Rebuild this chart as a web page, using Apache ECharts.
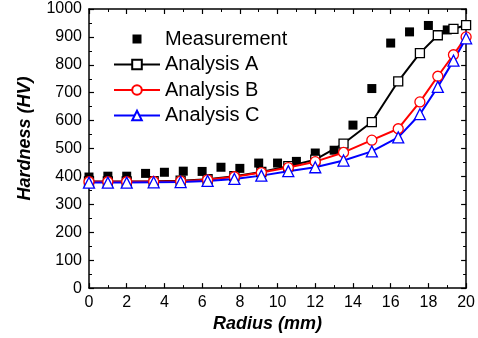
<!DOCTYPE html>
<html>
<head>
<meta charset="utf-8">
<script src="https://cdn.jsdelivr.net/npm/echarts@6/dist/echarts.min.js"></script>
<style>
  html, body { margin: 0; padding: 0; background: #fff; }
  #chart { width: 478px; height: 338px; }
</style>
</head>
<body>
<div id="chart"></div>
<script>
// measured hardness, one point per mm
const measRadius = [0, 1, 2, 3, 4, 5, 6, 7, 8, 9, 10, 11, 12, 13, 14, 15, 16, 17, 18, 19];
const measHardness = [398, 401, 401, 411, 415, 419, 418, 433, 429, 448, 448, 454, 484, 494, 584, 715, 878, 918, 941, 925];

// analysis node positions (same for the three analyses)
const nodeRadius = [0, 1, 2, 3.43, 4.86, 6.29, 7.71, 9.14, 10.57, 12, 13.5, 15, 16.4, 17.55, 18.5, 19.33, 20];
const analysisA = [382, 382, 382, 383, 385, 390, 401, 416, 437, 460, 518, 595, 741, 842, 906, 929, 942];
const analysisB = [381, 381, 381, 382, 383, 388, 399, 414, 432, 453, 486, 530, 571, 667, 759, 836, 900];
const analysisC = [378, 378, 378, 379, 380, 384, 391, 403, 419, 433, 457, 490, 540, 623, 721, 815, 895];

const xTicks = { min: 0, max: 20, interval: 2 };
const yTicks = { min: 0, max: 1000, interval: 100 };

const font = 'Liberation Sans, Arial, sans-serif';

// small filled square centred in a 12x12 box (legend icon for the measurements)
const squareIcon = 'path://M0,0L0,0M1.5,1.5L10.5,1.5L10.5,10.5L1.5,10.5ZM12,12L12,12';

function pairs(xs, ys) {
    return xs.map((x, i) => [x, ys[i]]);
}

function frameAxis(base, extra) {
    return Object.assign({
        type: 'value',
        splitLine: { show: false },
        axisLine: { show: true, onZero: false, lineStyle: { color: '#000', width: 1.5 } },
        axisTick: { show: true, inside: true, length: 5, lineStyle: { color: '#000', width: 1.2 } },
        minorTick: { show: true, splitNumber: 2, length: 3, lineStyle: { color: '#000', width: 1 } }
    }, base, extra);
}

function lineSeries(name, data, color, symbol, size) {
    return {
        name: name,
        type: 'line',
        data: data,
        symbol: symbol,
        symbolSize: size,
        showAllSymbol: true,
        lineStyle: { color: color, width: 2 },
        itemStyle: { color: '#fff', borderColor: color, borderWidth: 1.3 },
        emphasis: { disabled: true }
    };
}

const chart = echarts.init(document.getElementById('chart'), null, { renderer: 'canvas' });

chart.setOption({
    animation: false,
    backgroundColor: '#fff',
    grid: { left: 89, right: 10.5, top: 9, bottom: 48, containLabel: false },
    legend: {
        orient: 'vertical',
        left: 113,
        top: 29,
        padding: 0,
        itemWidth: 46,
        itemHeight: 12,
        itemGap: 5.5,
        textStyle: { fontFamily: font, fontSize: 20, color: '#000' },
        data: [
            { name: 'Measurement', icon: squareIcon },
            'Analysis A', 'Analysis B', 'Analysis C'
        ]
    },
    xAxis: [
        frameAxis(xTicks, {
            position: 'bottom',
            name: 'Radius (mm)',
            nameLocation: 'middle',
            nameGap: 24,
            nameTextStyle: {
                fontFamily: font, fontSize: 18, fontWeight: 'bold', fontStyle: 'italic', color: '#000',
                padding: [0, 20, 0, 0]
            },
            axisLabel: { fontFamily: font, fontSize: 16, color: '#000', margin: 6 }
        }),
        frameAxis(xTicks, { position: 'top', axisLabel: { show: false } })
    ],
    yAxis: [
        frameAxis(yTicks, {
            position: 'left',
            name: 'Hardness (HV)',
            nameLocation: 'middle',
            nameGap: 55,
            nameTextStyle: {
                fontFamily: font, fontSize: 18, fontWeight: 'bold', fontStyle: 'italic', color: '#000',
                padding: [0, 0, 0, 20]
            },
            axisLabel: {
                fontFamily: font, fontSize: 16, color: '#000', margin: 7,
                formatter: v => String(v)
            }
        }),
        frameAxis(yTicks, { position: 'right', axisLabel: { show: false } })
    ],
    series: [
        {
            name: 'Measurement',
            type: 'scatter',
            data: pairs(measRadius, measHardness),
            symbol: 'rect',
            symbolSize: 9,
            itemStyle: { color: '#000', opacity: 1 },
            emphasis: { disabled: true }
        },
        lineSeries('Analysis A', pairs(nodeRadius, analysisA), '#000', 'rect', 9),
        lineSeries('Analysis B', pairs(nodeRadius, analysisB), '#ff0000', 'circle', 10),
        lineSeries('Analysis C', pairs(nodeRadius, analysisC), '#0000ff', 'triangle', 11)
    ]
});
</script>
</body>
</html>
